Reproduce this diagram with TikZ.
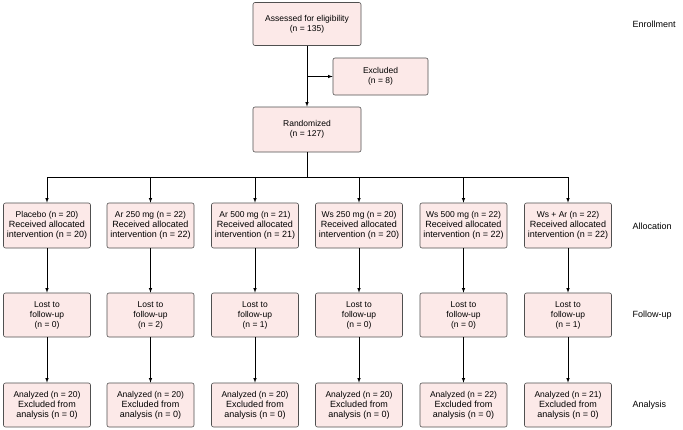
\documentclass[tikz,border=0pt]{standalone}
\usepackage{fontspec}
\setmainfont{Liberation Sans}
\definecolor{boxpink}{HTML}{FCE9E8}
\definecolor{boxline}{HTML}{505050}
\begin{document}
\begin{tikzpicture}[>=latex, x=1pt, y=-1pt, line width=0.6pt,
    box/.style={draw=boxline, fill=boxpink, rounded corners=2pt, align=center,
        inner sep=1pt, font=\fontsize{8.5}{10}\selectfont},
    small/.style={font=\fontsize{7}{8}\selectfont},
    stage/.style={anchor=west, font=\fontsize{9}{11}\selectfont}]
    \useasboundingbox (0,0) rectangle (683,429);

    \node[box, minimum width=108, minimum height=43] (assess) at (307,24) {Assessed for eligibility\\(n = 135)};
    \node[box, minimum width=95, minimum height=37] (excl) at (380.5,76.5) {Excluded\\(n = 8)};
    \node[box, minimum width=108, minimum height=45] (rand) at (307,129.5) {Randomized\\(n = 127)};
    \coordinate (split) at (307,76.5);
    \coordinate (bus) at (307,177);

    \draw (assess) -- (split);
    \draw[->] (split) -- (excl);
    \draw[->] (split) -- (rand);
    \draw (rand) -- (bus);

    \foreach \i/\x/\grp/\nrec/\nlost/\nan in {1/47/Placebo (n = 20)/20/0/20,
        2/150.5/Ar 250 mg (n = 22)/22/2/20, 3/255/Ar 500 mg (n = 21)/21/1/20,
        4/359/Ws 250 mg (n = 20)/20/0/20, 5/463.5/Ws 500 mg (n = 22)/22/0/22,
        6/568/Ws + Ar (n = 22)/22/1/21} {
        \node[box, minimum width=87, minimum height=45] (alloc\i) at (\x,225.5)
            {\grp\\{\small Received allocated}\\{\small intervention (n = \nrec)}};
        \node[box, minimum width=87, minimum height=44] (lost\i) at (\x,315)
            {Lost to\\follow-up\\(n = \nlost)};
        \node[box, minimum width=87, minimum height=44] (anal\i) at (\x,405)
            {Analyzed (n = \nan)\\{\small Excluded from}\\{\small analysis (n = 0)}};
        \coordinate (top\i) at (\x,177);
        \draw[->] (top\i) -- (alloc\i);
        \draw[->] (alloc\i) -- (lost\i);
        \draw[->] (lost\i) -- (anal\i);
    }
    \draw (top1) -- (top6);

    \node[stage] (enrol) at (629,24) {Enrollment};
    \node[stage] (allocl) at (629,226) {Allocation};
    \node[stage] (follow) at (629,315) {Follow-up};
    \node[stage] (analy) at (629,405) {Analysis};
\end{tikzpicture}
\end{document}
